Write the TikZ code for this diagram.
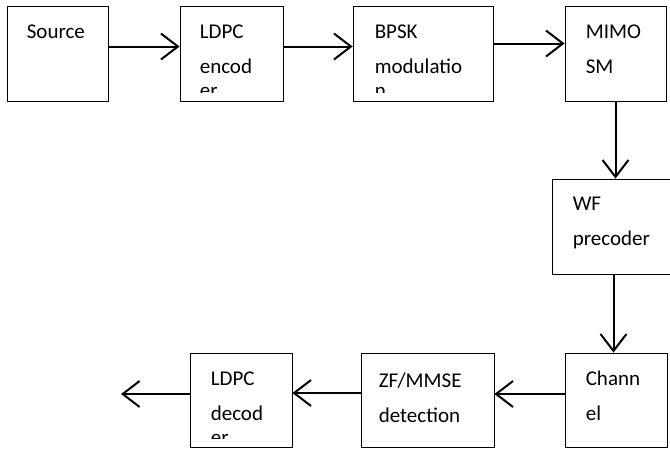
\documentclass[tikz,border=0pt]{standalone}
\usepackage{fontspec}
\setmainfont{Carlito}
\usetikzlibrary{arrows.meta}
\tikzset{
  blk/.style={draw, line width=0.8pt, minimum height=95pt, inner sep=0pt},
  lbl/.style={anchor=north west, inner sep=0pt, align=left, font=\fontsize{21}{35}\selectfont},
  arr/.style={-{Straight Barb[length=17pt,width=26pt]}, line width=2pt}
}
\begin{document}
\begin{tikzpicture}[x=1pt,y=-1pt]
\clip (0,0) rectangle (670,448);
% transmitter row
\node[blk, minimum width=101pt] (src) at (57.5,53.5) {};
\node[blk, minimum width=103pt] (enc) at (231.5,53.5) {};
\node[blk, minimum width=140pt] (mod) at (423,53.5) {};
\node[blk, minimum width=101pt] (sm) at (615.5,53.5) {};
\node[blk, minimum width=123pt] (wf) at (613.5,226.5) {};
% receiver row
\node[blk, minimum width=102pt, minimum height=94pt] (ch) at (616,400) {};
\node[blk, minimum width=133pt, minimum height=94pt] (det) at (427.5,400) {};
\node[blk, minimum width=102pt, minimum height=94pt] (dec) at (241,400) {};
\coordinate (out) at (121,394);
% texts
\node[lbl] (srct) at ([xshift=20pt,yshift=-19pt]src.north west) {Source};
\begin{scope}
\clip (enc.north west) rectangle ([yshift=9pt]enc.south east);
\node[lbl] (enct) at ([xshift=20pt,yshift=-19pt]enc.north west) {LDPC\\encod\\[-11pt]er};
\end{scope}
\begin{scope}
\clip (mod.north west) rectangle ([yshift=9pt]mod.south east);
\node[lbl] (modt) at ([xshift=22pt,yshift=-19pt]mod.north west) {BPSK\\modulatio\\[-11pt]n};
\end{scope}
\node[lbl] (smt) at ([xshift=21pt,yshift=-19pt]sm.north west) {MIMO\\SM};
\node[lbl] (wft) at ([xshift=21pt,yshift=-18pt]wf.north west) {WF\\precoder};
\node[lbl] (cht) at ([xshift=21pt,yshift=-18pt]ch.north west) {Chann\\el};
\node[lbl] (dett) at ([xshift=18pt,yshift=-20pt]det.north west) {ZF/MMSE\\detection};
\begin{scope}
\clip (dec.north west) rectangle ([yshift=9pt]dec.south east);
\node[lbl] (dect) at ([xshift=21pt,yshift=-19pt]dec.north west) {LDPC\\decod\\[-11pt]er};
\end{scope}
% connectors
\draw[arr] ([yshift=7pt]src.east) -- ([yshift=7pt]enc.west);
\draw[arr] ([yshift=7pt]enc.east) -- ([yshift=7pt]mod.west);
\draw[arr] ([yshift=10pt]mod.east) -- ([yshift=10pt]sm.west);
\draw[arr] (sm.south) -- (sm.south |- wf.north);
\draw[arr] (wf.south) -- (wf.south |- ch.north);
\draw[arr] ([yshift=6pt]ch.west) -- ([yshift=6pt]det.east);
\draw[arr] ([yshift=7pt]det.west) -- ([yshift=7pt]dec.west -| dec.east);
\draw[arr] ([yshift=6pt]dec.west) -- (out);
\end{tikzpicture}
\end{document}
